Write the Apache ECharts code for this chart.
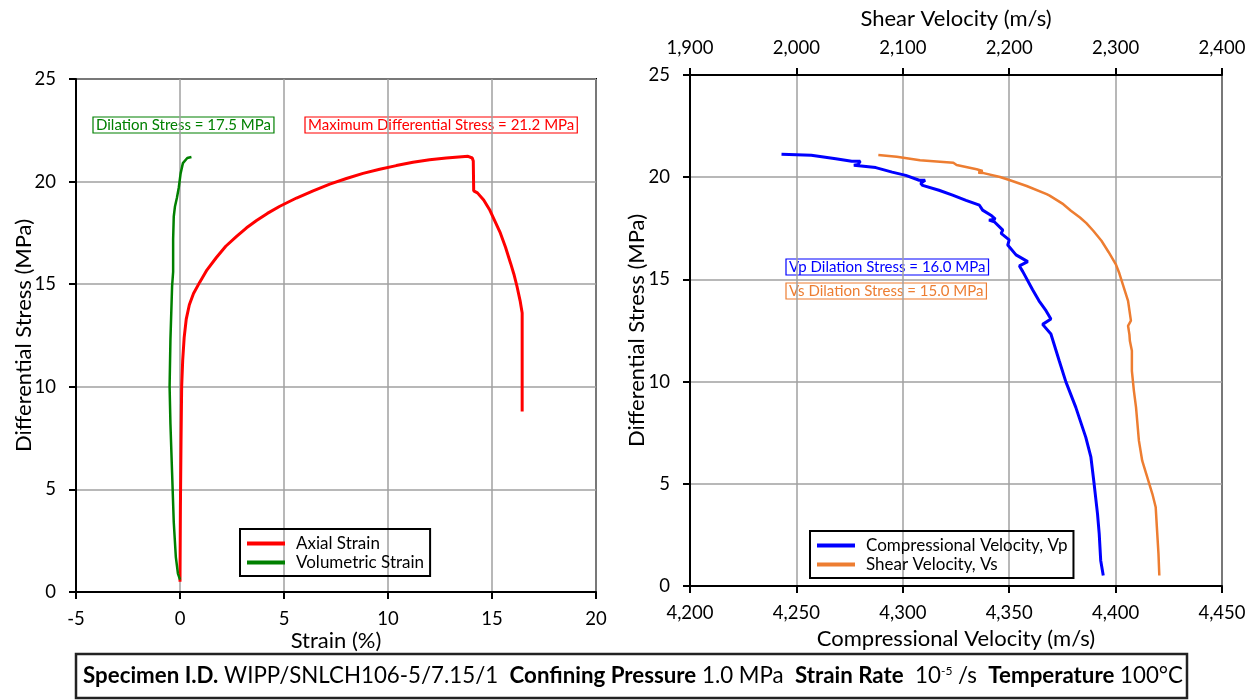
<!DOCTYPE html>
<html>
<head>
<meta charset="utf-8">
<script src="https://cdn.jsdelivr.net/npm/echarts@6.0.0/dist/echarts.min.js"></script>
<style>
html, body { margin: 0; padding: 0; background: #fff; }
#main { width: 1259px; height: 700px; }
</style>
</head>
<body>
<div id="main"></div>
<script>
// left panel: strain (%) vs differential stress (MPa)
const axialStrain = [0, 0.02, 0.05, 0.08, 0.13, 0.2, 0.3, 0.45, 0.65, 0.95, 1.3, 1.75, 2.2, 2.72, 3.2, 3.68, 4.2, 4.8, 5.6, 6.4, 7.2, 8.0, 8.8, 9.6, 10.4, 11.2, 12.0, 12.8, 13.4, 13.85, 14.05, 14.1, 14.12, 14.3, 14.6, 14.9, 15.15, 15.4, 15.65, 15.9, 16.05, 16.2, 16.35, 16.45, 16.45]
const axialStress = [0.5, 4.2, 7.4, 10.0, 11.3, 12.4, 13.3, 14.0, 14.55, 15.1, 15.7, 16.3, 16.85, 17.33, 17.75, 18.1, 18.45, 18.8, 19.2, 19.55, 19.88, 20.15, 20.4, 20.6, 20.78, 20.94, 21.06, 21.15, 21.2, 21.23, 21.15, 21.0, 19.55, 19.45, 19.1, 18.6, 18.05, 17.5, 16.8, 16.0, 15.5, 14.9, 14.2, 13.6, 8.8]
const volStrain = [0, -0.1, -0.2, -0.3, -0.38, -0.46, -0.5, -0.46, -0.38, -0.33, -0.33, -0.3, -0.24, -0.15, -0.06, 0.03, 0.14, 0.35, 0.55]
const volStress = [0.6, 0.9, 1.7, 3.4, 5.8, 8.2, 10.0, 12.3, 14.9, 15.6, 17.2, 18.3, 18.8, 19.2, 19.7, 20.4, 20.9, 21.15, 21.2]

// right panel: velocities (m/s) vs differential stress (MPa)
const vp = [4243, 4257, 4268.5, 4276, 4280, 4279, 4277, 4287.3, 4295, 4301.4, 4307.7, 4310.5, 4308.4, 4309.3, 4317, 4323.4, 4329.7, 4336, 4337.5, 4341.4, 4343.5, 4340.5, 4343, 4347, 4346.2, 4350, 4349.3, 4353.2, 4358.7, 4354.8, 4356.4, 4361, 4364, 4367.3, 4369.6, 4365.7, 4369.6, 4373.5, 4376.6, 4381.3, 4386, 4388.4, 4389.9, 4391.5, 4392.3, 4393, 4394.2]
const vpStress = [21.12, 21.07, 20.9, 20.78, 20.78, 20.62, 20.58, 20.47, 20.25, 20.09, 19.85, 19.85, 19.7, 19.6, 19.36, 19.12, 18.87, 18.63, 18.39, 18.14, 17.95, 17.9, 17.82, 17.41, 17.25, 16.93, 16.68, 16.2, 15.87, 15.66, 15.38, 14.49, 13.95, 13.47, 13.06, 12.8, 12.33, 11.02, 10.0, 8.74, 7.27, 6.3, 5.0, 3.53, 2.55, 1.25, 0.51]
const vs = [2077, 2094.3, 2116.2, 2147.5, 2150.6, 2169.4, 2175, 2171, 2176, 2191.4, 2200.8, 2216.4, 2235.2, 2238, 2250.8, 2258, 2266.5, 2272.5, 2279, 2286.7, 2293.5, 2300.1, 2303.5, 2306.7, 2311.7, 2314.4, 2311.7, 2313, 2313.4, 2315.3, 2315.3, 2317.2, 2319.2, 2321.9, 2325, 2328.8, 2334.6, 2337.7, 2338.8, 2340.3, 2341.1]
const vsStress = [21.09, 21.0, 20.83, 20.71, 20.6, 20.39, 20.3, 20.22, 20.2, 20.01, 19.85, 19.57, 19.17, 19.1, 18.68, 18.36, 18.03, 17.75, 17.38, 16.89, 16.33, 15.75, 15.3, 14.77, 13.95, 12.98, 12.73, 12.3, 12.0, 11.51, 10.53, 9.55, 8.74, 7.11, 6.13, 5.48, 4.5, 3.85, 2.87, 1.57, 0.51]

const FONT = 'Lato'

function pairs (xs, ys) {
  return xs.map((x, i) => [x, ys[i]])
}

const axisBase = {
  type: 'value',
  axisLine: { show: true, onZero: false, lineStyle: { color: '#000', width: 2 } },
  axisTick: { show: true, length: 7, lineStyle: { color: '#000', width: 2 } },
  splitLine: { show: true, lineStyle: { color: '#a0a0a0', width: 1.5 } },
  axisLabel: { color: '#000', fontFamily: FONT, fontSize: 18.5, margin: 18 },
  nameLocation: 'middle',
  nameMoveOverlap: false,
  nameTextStyle: { color: '#000', fontFamily: FONT, fontSize: 22 }
}
const ax = (o) => echarts.util.merge(echarts.util.clone(axisBase), o, true)

const legendBase = {
  orient: 'vertical',
  icon: 'rect',
  itemWidth: 38,
  itemHeight: 4,
  itemGap: 2,
  borderColor: '#000',
  borderWidth: 2,
  padding: [6, 6, 5, 7],
  selectedMode: false,
  textStyle: { color: '#000', fontFamily: FONT, fontSize: 17, lineHeight: 17, padding: [0, 0, 0, 6] }
}

function note (x, y, text, color) {
  return {
    type: 'text',
    x: x,
    y: y,
    style: {
      text: text,
      fill: color,
      fontFamily: FONT,
      fontSize: 15,
      borderColor: color,
      borderWidth: 1.2,
      padding: [1, 3, 0, 3]
    }
  }
}

const option = {
  animation: false,
  backgroundColor: '#fff',
  grid: [
    { left: 76, top: 79, width: 520, height: 513, show: true, borderColor: '#000', borderWidth: 2, backgroundColor: 'transparent' },
    { left: 690, top: 75, width: 532, height: 511, show: true, borderColor: '#000', borderWidth: 2, backgroundColor: 'transparent' }
  ],
  xAxis: [
    ax({ gridIndex: 0, min: -5, max: 20, interval: 5, position: 'bottom', name: 'Strain (%)', nameGap: 38 }),
    ax({ gridIndex: 1, min: 4200, max: 4450, interval: 50, position: 'bottom', name: 'Compressional Velocity (m/s)', nameGap: 42,
      axisLabel: { formatter: v => v.toLocaleString('en-US') } }),
    ax({ gridIndex: 1, min: 1900, max: 2400, interval: 100, position: 'top', name: 'Shear Velocity (m/s)', nameGap: 45,
      splitLine: { show: false }, axisLabel: { formatter: v => v.toLocaleString('en-US'), margin: 17 } })
  ],
  yAxis: [
    ax({ gridIndex: 0, min: 0, max: 25, interval: 5, name: 'Differential Stress (MPa)', nameGap: 41, axisLabel: { margin: 20 } }),
    ax({ gridIndex: 1, min: 0, max: 25, interval: 5, name: 'Differential Stress (MPa)', nameGap: 42, axisLabel: { margin: 20 } })
  ],
  legend: [
    echarts.util.merge({ left: 240, top: 529, data: ['Axial Strain', 'Volumetric Strain'] }, echarts.util.clone(legendBase)),
    echarts.util.merge({ left: 810, top: 531, data: ['Compressional Velocity, Vp', 'Shear Velocity, Vs'] }, echarts.util.clone(legendBase))
  ],
  series: [
    { name: 'Axial Strain', type: 'line', xAxisIndex: 0, yAxisIndex: 0, showSymbol: false, color: '#ff0000',
      lineStyle: { width: 3 }, data: pairs(axialStrain, axialStress) },
    { name: 'Volumetric Strain', type: 'line', xAxisIndex: 0, yAxisIndex: 0, showSymbol: false, color: '#008000',
      lineStyle: { width: 2.5 }, data: pairs(volStrain, volStress) },
    { name: 'Compressional Velocity, Vp', type: 'line', xAxisIndex: 1, yAxisIndex: 1, showSymbol: false, color: '#0000ff',
      lineStyle: { width: 3 }, data: pairs(vp, vpStress) },
    { name: 'Shear Velocity, Vs', type: 'line', xAxisIndex: 2, yAxisIndex: 1, showSymbol: false, color: '#ed7d31',
      lineStyle: { width: 2.5 }, data: pairs(vs, vsStress) }
  ],
  graphic: [
    note(93, 117, 'Dilation Stress = 17.5 MPa', '#008000'),
    note(305, 117, 'Maximum Differential Stress = 21.2 MPa', '#ff0000'),
    note(786, 259, 'Vp Dilation Stress = 16.0 MPa', '#0000ff'),
    note(786, 283, 'Vs Dilation Stress = 15.0 MPa', '#ed7d31'),
    {
      type: 'rect',
      shape: { x: 76, y: 654, width: 1111, height: 44 },
      style: { fill: 'none', stroke: '#222', lineWidth: 2.5 }
    },
    {
      type: 'text',
      x: 633,
      y: 676,
      style: {
        text: '{b|Specimen I.D.} WIPP/SNLCH106-5/7.15/1  {b|Confining Pressure} 1.0 MPa  {b|Strain Rate}  10{s|-5} /s  {b|Temperature} 100°C',
        fill: '#000',
        fontFamily: FONT,
        fontSize: 22.3,
        align: 'center',
        textAlign: 'center',
        verticalAlign: 'middle',
        textVerticalAlign: 'middle',
        rich: {
          b: { fontFamily: FONT, fontSize: 22.3, fontWeight: 'bold', fill: '#000' },
          s: { fontFamily: FONT, fontSize: 12, fill: '#000', verticalAlign: 'top', lineHeight: 14 }
        }
      }
    }
  ]
}

const chart = echarts.init(document.getElementById('main'), null, { renderer: 'canvas' })
chart.setOption(option)
</script>
</body>
</html>
